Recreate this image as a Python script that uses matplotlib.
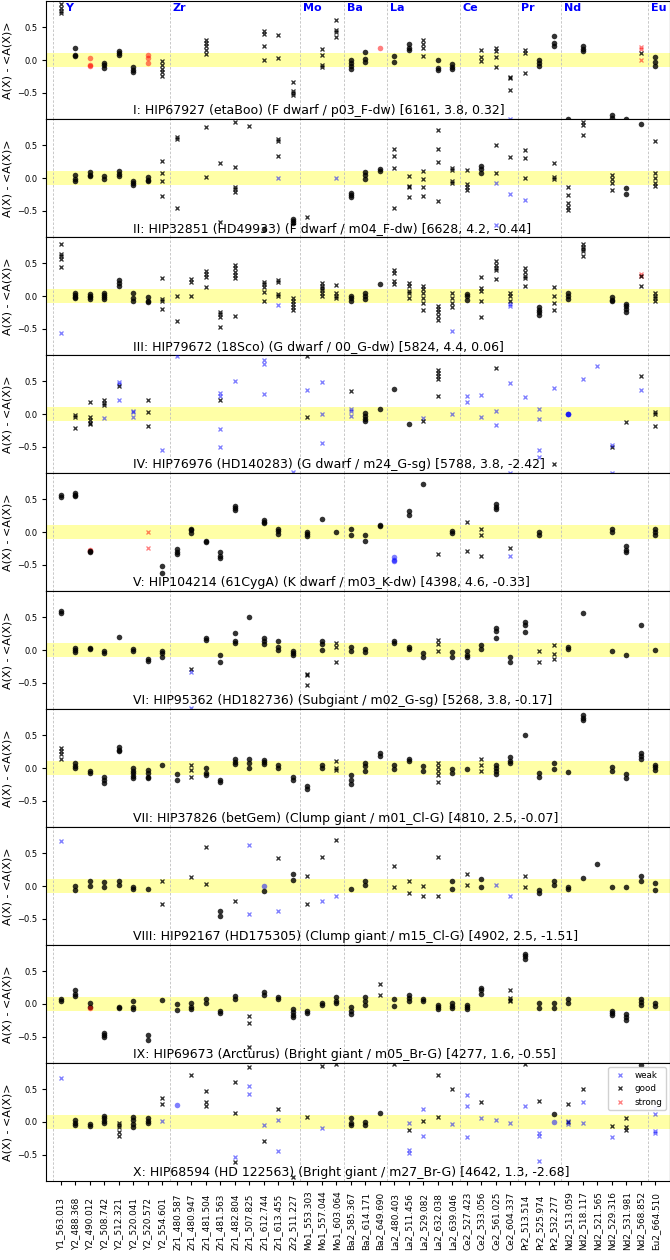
import matplotlib
matplotlib.use("Agg")
import matplotlib.pyplot as plt
from matplotlib.lines import Line2D

# ---------------- data ----------------
LINES = ["Y1_563.013", "Y2_488.368", "Y2_490.012", "Y2_508.742", "Y2_512.321", "Y2_520.041",
         "Y2_520.572", "Y2_554.601", "Zr1_480.587", "Zr1_480.947", "Zr1_481.504", "Zr1_481.563",
         "Zr1_482.804", "Zr1_507.825", "Zr1_612.744", "Zr1_613.455", "Zr2_511.227", "Mo1_553.303",
         "Mo1_557.044", "Mo1_603.064", "Ba2_585.367", "Ba2_614.171", "Ba2_649.690", "La2_480.403",
         "La2_511.456", "La2_529.082", "La2_632.038", "La2_639.046", "Ce2_527.423", "Ce2_533.056",
         "Ce2_561.025", "Ce2_604.337", "Pr2_513.514", "Pr2_525.974", "Pr2_532.277", "Nd2_513.059",
         "Nd2_518.117", "Nd2_521.565", "Nd2_529.316", "Nd2_531.981", "Nd2_568.852", "Eu2_664.510"]

ELEMENTS = ["Y", "Zr", "Mo", "Ba", "La", "Ce", "Pr", "Nd", "Eu"]
ELEMENT_FIRST = [0, 8, 17, 20, 23, 28, 32, 35, 41]

TITLES = [
    "I: HIP67927 (etaBoo) (F dwarf / p03_F-dw) [6161, 3.8, 0.32]",
    "II: HIP32851 (HD49933) (F dwarf / m04_F-dw) [6628, 4.2, -0.44]",
    "III: HIP79672 (18Sco) (G dwarf / 00_G-dw) [5824, 4.4, 0.06]",
    "IV: HIP76976 (HD140283) (G dwarf / m24_G-sg) [5788, 3.8, -2.42]",
    "V: HIP104214 (61CygA) (K dwarf / m03_K-dw) [4398, 4.6, -0.33]",
    "VI: HIP95362 (HD182736) (Subgiant / m02_G-sg) [5268, 3.8, -0.17]",
    "VII: HIP37826 (betGem) (Clump giant / m01_Cl-G) [4810, 2.5, -0.07]",
    "VIII: HIP92167 (HD175305) (Clump giant / m15_Cl-G) [4902, 2.5, -1.51]",
    "IX: HIP69673 (Arcturus) (Bright giant / m05_Br-G) [4277, 1.6, -0.55]",
    "X: HIP68594 (HD 122563) (Bright giant / m27_Br-G) [4642, 1.3, -2.68]",
]

# entries: (line index, marker, flag, values)   flag: g=good, w=weak, s=strong
P1 = [
    (0, 'x', 'g', [0.85, 0.80, 0.75, 0.71]), (1, 'o', 'g', [0.19, 0.08, 0.06]),
    (2, 'o', 's', [0.03, -0.08, -0.09]), (3, 'o', 'g', [-0.04, -0.08, -0.12]),
    (4, 'o', 'g', [0.13, 0.11, 0.08]), (5, 'o', 'g', [-0.11, -0.15, -0.18]),
    (6, 'o', 's', [0.08, 0.03, -0.05]), (7, 'x', 'g', [-0.02, -0.07, -0.13, -0.19, -0.24]),
    (10, 'x', 'g', [0.30, 0.26, 0.21, 0.16, 0.09]), (14, 'x', 'g', [0.44, 0.40, 0.21, 0.0]),
    (15, 'x', 'g', [0.38, 0.03]), (16, 'x', 'g', [-0.33, -0.47, -0.51, -0.54]),
    (18, 'x', 'g', [0.17, 0.08, -0.08, -0.10]), (19, 'x', 'g', [0.61, 0.46, 0.42, 0.35]),
    (20, 'o', 'g', [0.0, -0.05, -0.09, -0.13]), (21, 'o', 'g', [0.12, 0.01, -0.03]),
    (22, 'o', 's', [0.18]), (23, 'o', 'g', [0.06, -0.03]), (24, 'o', 'g', [0.24, 0.19, 0.16]),
    (25, 'x', 'g', [0.30, 0.25, 0.19, 0.06]), (26, 'o', 'g', [0.0, -0.12, -0.15]),
    (27, 'o', 'g', [-0.06, -0.10, -0.13]), (29, 'x', 'g', [0.16, 0.05, -0.01]),
    (30, 'x', 'g', [0.18, 0.13, 0.05, -0.11]), (31, 'x', 'g', [-0.26, -0.28, -0.45]),
    (31, 'x', 'w', [-0.90]), (32, 'x', 'g', [0.16, 0.11, -0.20]),
    (33, 'o', 'g', [0.0, -0.04, -0.09]), (34, 'o', 'g', [0.36, 0.26, 0.21]),
    (35, 'o', 'g', [-0.90]), (36, 'o', 'g', [0.21, 0.17, 0.14]), (38, 'o', 'g', [-0.84, -0.88]),
    (39, 'o', 'g', [-0.90]), (40, 'x', 's', [0.20, 0.17, 0.0]), (40, 'x', 'g', [0.11]),
    (41, 'o', 'g', [0.05, -0.03, -0.09]),
]
P2 = [
    (1, 'o', 'g', [0.04, -0.02, -0.05]), (2, 'o', 'g', [0.09, 0.05, 0.03]),
    (3, 'o', 'g', [0.03, -0.01]), (4, 'o', 'g', [0.10, 0.06, 0.03]),
    (5, 'o', 'g', [-0.04, -0.08, -0.11]), (6, 'o', 'g', [0.01, -0.03, -0.05]),
    (7, 'x', 'g', [0.26, 0.07, -0.04, -0.27]), (8, 'x', 'g', [0.62, 0.59, -0.45]),
    (10, 'x', 'g', [0.78, 0.02]), (11, 'x', 'g', [0.23, -0.67]),
    (12, 'x', 'g', [0.85, 0.17, -0.13, -0.17, -0.22]), (13, 'x', 'g', [0.80]),
    (14, 'o', 'g', [-0.78]), (15, 'x', 'g', [0.60, 0.57, 0.34]), (15, 'x', 'w', [0.0]),
    (16, 'o', 'g', [-0.62, -0.65, -0.68]), (17, 'x', 'g', [-0.59]), (19, 'x', 'w', [0.0]),
    (20, 'o', 'g', [-0.23, -0.26, -0.29]), (21, 'o', 'g', [0.09, 0.04, -0.02]),
    (22, 'o', 'g', [0.13, 0.10]), (23, 'x', 'g', [0.44, 0.33, 0.15, -0.45]),
    (24, 'x', 'g', [0.03, -0.12, -0.14, -0.29]), (25, 'x', 'g', [0.10, -0.02, -0.13, -0.27]),
    (26, 'x', 'g', [0.73, 0.45, 0.25, -0.35]), (27, 'x', 'g', [0.15, 0.12, -0.04, -0.07]),
    (28, 'x', 'g', [0.12, -0.09, -0.14, -0.19]), (29, 'o', 'g', [0.19, 0.13, 0.08]),
    (30, 'x', 'g', [0.50, 0.07]), (30, 'x', 'w', [-0.07, -0.72]), (31, 'x', 'g', [0.32]),
    (31, 'x', 'w', [-0.24]), (32, 'x', 'g', [0.43, 0.31, 0.0]), (32, 'x', 'w', [-0.34]),
    (34, 'x', 'g', [0.23, 0.02, -0.01]), (35, 'x', 'g', [-0.14, -0.26, -0.38, -0.44, -0.49]),
    (36, 'x', 'g', [0.86, 0.81, 0.65]), (38, 'x', 'g', [0.04, -0.01, -0.07, -0.19]),
    (39, 'o', 'g', [-0.15, -0.24]), (40, 'o', 'g', [0.82]),
    (41, 'x', 'g', [0.56, 0.07, 0.0, -0.07, -0.12]),
]
P3 = [
    (0, 'x', 'g', [0.80, 0.64, 0.61, 0.57, 0.45]), (0, 'x', 'w', [-0.57]),
    (1, 'o', 'g', [0.05, 0.02, -0.02, -0.03]), (2, 'o', 'g', [0.03, 0.0, -0.02, -0.04]),
    (3, 'o', 'g', [0.05, 0.02, -0.01, -0.04]), (4, 'o', 'g', [0.24, 0.20, 0.16]),
    (5, 'o', 'g', [0.05, -0.03, -0.08]), (6, 'o', 'g', [-0.02, -0.07, -0.09]),
    (7, 'x', 'g', [0.27, -0.05, -0.08, -0.20]), (8, 'x', 'g', [0.0, -0.38]),
    (9, 'x', 'g', [0.26, 0.21, 0.0]), (10, 'x', 'g', [0.38, 0.33, 0.29, 0.14]),
    (11, 'x', 'g', [-0.24, -0.27, -0.32, -0.48]),
    (12, 'x', 'g', [0.47, 0.42, 0.36, 0.32, 0.27, -0.30]),
    (14, 'x', 'g', [0.21, 0.19, 0.14, 0.06, -0.07]), (15, 'x', 'g', [0.24, 0.21, 0.03, 0.0]),
    (15, 'x', 'w', [-0.13]), (16, 'x', 'g', [-0.03, -0.07, -0.12, -0.17, -0.22]),
    (18, 'x', 'g', [0.20, 0.16, 0.12, 0.09, 0.04, 0.0]), (19, 'x', 'g', [0.17, 0.04, 0.0, -0.03]),
    (20, 'o', 'g', [0.0, -0.03, -0.07]), (21, 'o', 'g', [0.05, 0.0, -0.04]),
    (22, 'o', 'g', [0.19]), (23, 'x', 'g', [0.40, 0.35, 0.23, 0.19]),
    (24, 'x', 'g', [0.20, 0.15, 0.08, 0.04, -0.03]),
    (25, 'x', 'g', [0.16, 0.10, 0.04, -0.03, -0.10, -0.21]),
    (26, 'x', 'g', [-0.15, -0.20, -0.25, -0.30, -0.36]),
    (27, 'x', 'g', [0.04, -0.03, -0.11, -0.17]), (27, 'x', 'w', [-0.54]),
    (28, 'o', 'g', [0.03, 0.0, -0.06]), (29, 'x', 'g', [0.29, 0.12, 0.07, -0.08, -0.32]),
    (30, 'x', 'g', [0.53, 0.48, 0.43, 0.39, 0.26]), (31, 'x', 'g', [0.05, 0.0, -0.07]),
    (31, 'x', 'w', [-0.12, -0.16]), (32, 'x', 'g', [0.42, 0.36, 0.30, 0.28, 0.16]),
    (33, 'o', 'g', [-0.17, -0.21, -0.25, -0.29]), (34, 'x', 'g', [0.14, 0.0, -0.11, -0.22]),
    (35, 'o', 'g', [0.04, 0.0, -0.04]), (36, 'x', 'g', [0.80, 0.75, 0.72, 0.69, 0.61]),
    (38, 'o', 'g', [-0.02, -0.06, -0.08]), (39, 'o', 'g', [-0.12, -0.16, -0.20, -0.24]),
    (40, 'x', 's', [0.33, 0.30]), (40, 'x', 'g', [0.31, 0.16]),
    (41, 'x', 'g', [0.05, 0.0, -0.03, -0.07]),
]
P4 = [
    (1, 'x', 'g', [-0.02, -0.04, -0.22]), (2, 'x', 'g', [0.18, -0.04, -0.09, -0.13, -0.15]),
    (3, 'x', 'g', [0.22, 0.17, 0.13]), (3, 'x', 'w', [-0.06]), (4, 'x', 'w', [0.49, 0.46, 0.21]),
    (4, 'x', 'g', [0.43]), (5, 'x', 'w', [0.05, 0.03, -0.05]), (6, 'x', 'g', [0.22, 0.03, -0.18]),
    (7, 'x', 'w', [-0.55]), (8, 'x', 'w', [0.89]), (11, 'x', 'w', [0.32, 0.28, -0.23, -0.51]),
    (11, 'x', 'g', [0.22]), (12, 'x', 'w', [0.51]), (14, 'x', 'w', [0.82, 0.76, 0.31]),
    (16, 'x', 'w', [-0.88]), (17, 'x', 'w', [0.37]), (17, 'x', 'g', [0.89, -0.04]),
    (18, 'x', 'w', [0.49, 0.0, -0.44]), (20, 'x', 'g', [0.35]), (20, 'x', 'w', [0.08, 0.04, -0.03]),
    (21, 'o', 'g', [0.02, -0.03, -0.07, -0.10]), (22, 'o', 'g', [0.07]), (23, 'o', 'g', [0.38]),
    (24, 'o', 'g', [-0.15]), (25, 'x', 'w', [-0.06]), (25, 'x', 'g', [-0.11]),
    (26, 'x', 'g', [0.67, 0.62, 0.58, 0.53, 0.27]), (27, 'x', 'w', [0.0]),
    (28, 'x', 'w', [0.27, 0.18]), (29, 'x', 'w', [0.29, -0.05]), (30, 'x', 'g', [0.70]),
    (30, 'x', 'w', [0.05, -0.17]), (31, 'x', 'w', [0.48, -0.90]), (32, 'x', 'w', [0.26]),
    (33, 'x', 'w', [0.08, -0.07, -0.55, -0.65]), (34, 'x', 'w', [0.40]), (34, 'x', 'g', [-0.76]),
    (35, 'o', 'w', [0.0, 0.0, 0.0]), (36, 'x', 'w', [0.53]), (37, 'x', 'w', [0.73]),
    (38, 'x', 'g', [-0.50]), (38, 'x', 'w', [-0.48, -0.90]), (39, 'x', 'g', [-0.12]),
    (40, 'x', 'g', [0.58]), (40, 'x', 'w', [0.36]), (41, 'x', 'g', [0.03, 0.0, -0.19]),
]
P5 = [
    (0, 'o', 'g', [0.56, 0.54]), (1, 'o', 'g', [0.60, 0.56, 0.55]), (2, 'o', 's', [-0.27, -0.29]),
    (2, 'o', 'g', [-0.29, -0.31]), (6, 'x', 's', [0.0, -0.25]), (7, 'o', 'g', [-0.52, -0.63]),
    (8, 'o', 'g', [-0.26, -0.30, -0.33]), (9, 'o', 'g', [0.05, 0.03, -0.01]),
    (10, 'o', 'g', [-0.13, -0.16]), (11, 'o', 'g', [-0.31, -0.37, -0.40]),
    (12, 'o', 'g', [0.39, 0.37, 0.34]), (14, 'o', 'g', [0.19, 0.16, 0.14]),
    (15, 'o', 'g', [0.05, 0.02, -0.03]), (17, 'o', 'g', [0.0, -0.03, -0.06]),
    (18, 'o', 'g', [0.20]), (19, 'o', 'g', [0.0]), (20, 'o', 'g', [0.05, -0.04]),
    (21, 'o', 'g', [-0.04, -0.13]), (22, 'o', 'g', [0.11, 0.09]),
    (23, 'o', 'w', [-0.38, -0.42, -0.44]), (24, 'o', 'g', [0.32, 0.26]), (25, 'o', 'g', [0.73]),
    (26, 'x', 'g', [-0.34]), (27, 'o', 'g', [0.02, -0.02]), (28, 'x', 'g', [0.15, -0.29]),
    (29, 'x', 'g', [0.05, -0.05, -0.37]), (30, 'o', 'g', [0.42, 0.38, 0.35]),
    (31, 'x', 'g', [-0.25]), (31, 'x', 'w', [-0.36]), (33, 'o', 'g', [0.0, -0.04]),
    (38, 'o', 'g', [0.04, 0.0]), (39, 'o', 'g', [-0.22, -0.27, -0.31]),
    (41, 'o', 'g', [0.04, 0.0, -0.04]),
]
P6 = [
    (0, 'o', 'g', [0.60, 0.57]), (1, 'o', 'g', [0.03, 0.0, -0.03]), (2, 'o', 'g', [0.03, 0.01]),
    (3, 'o', 'g', [-0.02, -0.05]), (4, 'o', 'g', [0.20]), (5, 'o', 'g', [0.02, -0.02]),
    (6, 'o', 'g', [-0.14, -0.17]), (7, 'o', 'g', [-0.01, -0.05, -0.10]), (9, 'x', 'g', [-0.29]),
    (9, 'x', 'w', [-0.34, -0.89]), (10, 'o', 'g', [0.19, 0.15]), (11, 'o', 'g', [-0.08, -0.18]),
    (12, 'o', 'g', [0.26, 0.14, 0.11]), (13, 'o', 'g', [0.51]), (14, 'o', 'g', [0.19, 0.14, 0.09]),
    (15, 'o', 'g', [0.14, 0.05, 0.0]), (16, 'o', 'g', [-0.01, -0.04, -0.08]),
    (17, 'x', 'g', [-0.36, -0.38, -0.54]), (18, 'o', 'g', [0.13, 0.09, 0.0]),
    (19, 'x', 'g', [0.10, 0.05, -0.18]), (20, 'o', 'g', [0.04, -0.02]), (21, 'o', 'g', [0.02, -0.03]),
    (23, 'o', 'g', [0.14, 0.10]), (24, 'o', 'g', [0.05, 0.01]), (25, 'o', 'g', [-0.04, -0.10]),
    (26, 'x', 'g', [0.16, 0.09, -0.02]), (27, 'o', 'g', [-0.03, -0.10]),
    (28, 'o', 'g', [-0.01, -0.07, -0.10]), (29, 'o', 'g', [0.08, 0.02]),
    (30, 'o', 'g', [0.33, 0.29, 0.19]), (31, 'o', 'g', [-0.10, -0.18]),
    (32, 'o', 'g', [0.42, 0.38, 0.28]), (33, 'x', 'g', [-0.01, -0.19]),
    (34, 'x', 'g', [0.08, -0.06, -0.13]), (35, 'o', 'g', [0.05, 0.01]), (36, 'o', 'g', [0.57]),
    (38, 'o', 'g', [-0.02]), (39, 'o', 'g', [-0.08]), (40, 'o', 'g', [0.38]), (41, 'o', 'g', [0.0]),
]
P7 = [
    (0, 'x', 'g', [0.31, 0.26, 0.21, 0.14]), (1, 'o', 'g', [0.08, 0.03, 0.0]),
    (2, 'o', 'g', [-0.04, -0.08]), (3, 'o', 'g', [-0.13, -0.19, -0.23]),
    (4, 'o', 'g', [0.32, 0.28, 0.26]), (5, 'o', 'g', [0.0, -0.04, -0.08, -0.12, -0.15]),
    (6, 'o', 'g', [-0.03, -0.08, -0.13, -0.16]), (7, 'o', 'g', [0.04]), (8, 'o', 'g', [-0.09, -0.18]),
    (9, 'x', 'g', [0.04, -0.03, -0.13]), (10, 'o', 'g', [0.0, -0.07, -0.10]),
    (11, 'o', 'g', [-0.18, -0.22]), (12, 'o', 'g', [0.13, 0.09, 0.06]),
    (13, 'o', 'g', [0.13, 0.08, 0.0]), (14, 'o', 'g', [0.12, 0.09, 0.06]), (15, 'o', 'g', [0.04, 0.0]),
    (16, 'o', 'g', [-0.13, -0.18]), (17, 'o', 'g', [-0.28, -0.32]), (18, 'o', 'g', [0.04, 0.0]),
    (19, 'x', 'g', [0.10, 0.0, -0.03]), (20, 'o', 'g', [-0.11, -0.18, -0.25]),
    (21, 'o', 'g', [0.08, 0.03, -0.04]), (22, 'o', 'g', [0.23, 0.19]), (23, 'o', 'g', [0.05, -0.01]),
    (24, 'o', 'g', [0.14, 0.10]), (25, 'o', 'g', [0.03, -0.04]),
    (26, 'x', 'g', [0.08, 0.02, -0.05, -0.10, -0.21]), (27, 'o', 'g', [-0.01, -0.08]),
    (28, 'o', 'g', [-0.02]), (29, 'x', 'g', [0.14, 0.05, -0.04]),
    (30, 'o', 'g', [0.05, 0.0, -0.05, -0.09]), (31, 'o', 'g', [0.17, 0.11, 0.08]),
    (32, 'o', 'g', [0.50]), (33, 'o', 'g', [-0.07, -0.13]), (34, 'o', 'g', [0.08, -0.02]),
    (35, 'o', 'g', [-0.06]), (36, 'o', 'g', [0.81, 0.77, 0.73]), (38, 'o', 'g', [0.02, -0.04]),
    (39, 'o', 'g', [-0.09, -0.15]), (40, 'o', 'g', [0.23, 0.19, 0.13]),
    (41, 'o', 'g', [0.05, 0.02, -0.03]),
]
P8 = [
    (0, 'x', 'w', [0.68]), (1, 'o', 'g', [0.0, -0.06]), (2, 'o', 'g', [0.07, 0.0]),
    (3, 'o', 'g', [0.06, -0.01]), (4, 'o', 'g', [0.08, 0.02]), (5, 'o', 'g', [-0.01, -0.04]),
    (6, 'o', 'g', [-0.04]), (7, 'x', 'g', [0.08, -0.27]), (9, 'x', 'g', [0.14]),
    (10, 'x', 'g', [0.59, 0.03]), (11, 'o', 'g', [-0.38, -0.46]), (12, 'x', 'g', [-0.23]),
    (13, 'x', 'w', [0.63, -0.42]), (14, 'o', 'w', [0.0]), (14, 'o', 'g', [-0.07]),
    (15, 'x', 'g', [0.43]), (15, 'x', 'w', [-0.38]), (16, 'o', 'g', [0.18, 0.09]),
    (17, 'x', 'g', [0.15, -0.27]), (18, 'x', 'g', [0.45]), (18, 'x', 'w', [-0.23]),
    (19, 'x', 'g', [0.70]), (19, 'x', 'w', [-0.15]), (20, 'o', 'g', [-0.04]),
    (21, 'o', 'g', [0.08, 0.02]), (23, 'x', 'g', [0.31, -0.01]), (24, 'x', 'g', [0.07, -0.10]),
    (25, 'x', 'g', [0.0, -0.15]), (26, 'x', 'g', [0.44, -0.15]), (27, 'o', 'g', [0.07, -0.05]),
    (28, 'x', 'g', [0.19, 0.02]), (29, 'o', 'g', [0.11, -0.02]), (30, 'x', 'w', [0.02]),
    (31, 'x', 'w', [-0.16]), (32, 'x', 'g', [0.16, -0.02]), (33, 'o', 'g', [-0.06, -0.11]),
    (34, 'o', 'g', [0.08, 0.02]), (35, 'o', 'g', [-0.01, -0.05]), (36, 'o', 'g', [0.12]),
    (37, 'o', 'g', [0.33]), (38, 'o', 'g', [-0.01]), (39, 'o', 'g', [-0.01]),
    (40, 'o', 'g', [0.16, 0.08]), (41, 'o', 'g', [0.05, -0.06]),
]
P9 = [
    (0, 'o', 'g', [0.08, 0.04]), (1, 'o', 'g', [0.21, 0.16, 0.12]), (2, 'o', 'g', [0.02, -0.04]),
    (2, 'o', 's', [-0.06]), (3, 'o', 'g', [-0.45, -0.47, -0.50]), (4, 'o', 'g', [-0.04, -0.06]),
    (5, 'o', 'g', [0.05, -0.04, -0.08]), (6, 'o', 'g', [-0.48, -0.55]), (7, 'o', 'g', [0.06]),
    (8, 'o', 'g', [0.0, -0.09]), (9, 'o', 'g', [0.02, -0.04, -0.07]), (10, 'o', 'g', [0.07, 0.02]),
    (11, 'o', 'g', [-0.10, -0.13]), (12, 'o', 'g', [0.12, 0.08]), (13, 'x', 'g', [-0.18, -0.29, -0.65]),
    (14, 'o', 'g', [0.18, 0.14]), (15, 'o', 'g', [0.10, 0.07]),
    (16, 'o', 'g', [-0.07, -0.12, -0.17, -0.20]), (17, 'o', 'g', [-0.10, -0.14]),
    (18, 'o', 'g', [0.02, -0.02]), (19, 'o', 'g', [0.10, 0.05, 0.02]),
    (20, 'o', 'g', [-0.05, -0.10, -0.16]), (21, 'o', 'g', [0.10, 0.04, -0.02]),
    (22, 'x', 'g', [0.31, 0.13]), (23, 'o', 'g', [0.08, -0.03]), (24, 'o', 'g', [0.13, 0.09, 0.05]),
    (25, 'o', 'g', [0.08, 0.04]), (26, 'o', 'g', [-0.01, -0.05, -0.08]),
    (27, 'o', 'g', [0.02, -0.03, -0.06]), (28, 'o', 'g', [-0.01, -0.05, -0.08]),
    (29, 'o', 'g', [0.25, 0.21, 0.15]), (31, 'x', 'g', [0.22, 0.09, 0.06, 0.04]),
    (32, 'o', 'g', [0.77, 0.73, 0.69]), (33, 'o', 'g', [0.01, -0.06]), (34, 'o', 'g', [0.01, -0.06]),
    (35, 'o', 'g', [0.08, 0.01]), (38, 'o', 'g', [-0.10, -0.14, -0.17]),
    (39, 'o', 'g', [-0.16, -0.20, -0.24]), (40, 'o', 'g', [0.07, 0.03, -0.01]),
    (41, 'o', 'g', [0.02, -0.03]),
]
P10 = [
    (0, 'x', 'w', [0.67]), (1, 'o', 'g', [0.03, -0.01, -0.05]), (2, 'o', 'g', [-0.03, -0.06]),
    (3, 'o', 'g', [0.09, 0.06, 0.02, -0.01]), (4, 'x', 'g', [-0.01, -0.05, -0.08, -0.15, -0.21]),
    (5, 'o', 'g', [0.08, 0.03, -0.03, -0.08]), (6, 'o', 'g', [0.06, 0.02, -0.02]),
    (7, 'x', 'g', [0.37, 0.27]), (7, 'x', 'w', [0.01]), (8, 'o', 'w', [0.26]), (9, 'x', 'g', [0.71]),
    (10, 'x', 'g', [0.47, 0.31, 0.25]), (12, 'x', 'g', [0.61, 0.14, -0.61]), (12, 'x', 'w', [-0.53]),
    (13, 'x', 'g', [0.84]), (13, 'x', 'w', [0.55, 0.42]), (14, 'x', 'w', [-0.04]),
    (14, 'x', 'g', [-0.29]), (15, 'x', 'g', [0.20]), (15, 'x', 'w', [0.03, -0.45]),
    (16, 'x', 'g', [-0.84]), (17, 'x', 'g', [0.08]), (18, 'x', 'g', [0.85]), (18, 'x', 'w', [-0.09]),
    (19, 'x', 'g', [0.88]), (20, 'o', 'g', [0.06, -0.02, -0.05]), (21, 'o', 'g', [0.0, -0.04]),
    (22, 'o', 'g', [0.14]), (23, 'x', 'g', [0.88]), (24, 'x', 'w', [-0.02, -0.43, -0.48]),
    (24, 'x', 'g', [-0.12]), (25, 'x', 'w', [0.20, -0.22]), (25, 'x', 'g', [0.01]),
    (26, 'x', 'g', [0.72, 0.08]), (27, 'x', 'g', [0.50]), (27, 'x', 'w', [-0.03]),
    (28, 'x', 'w', [0.41, 0.24, -0.23]), (29, 'x', 'g', [0.30]), (29, 'x', 'w', [0.06]),
    (30, 'x', 'w', [0.03]), (31, 'x', 'w', [-0.01]), (32, 'x', 'g', [0.88]), (32, 'x', 'w', [0.25]),
    (33, 'x', 'g', [0.32]), (33, 'x', 'w', [-0.17, -0.22, -0.60]), (34, 'o', 'g', [0.12]),
    (34, 'o', 'w', [0.0]), (35, 'x', 'g', [0.28, 0.0]), (35, 'x', 'w', [0.01, -0.03]),
    (36, 'x', 'g', [0.50]), (36, 'x', 'w', [0.30, -0.02]), (38, 'x', 'g', [-0.06]),
    (38, 'x', 'w', [-0.23]), (39, 'x', 'g', [0.06, -0.08, -0.12]), (40, 'o', 'g', [0.87]),
    (41, 'x', 'w', [0.22, 0.12, -0.14, -0.17]),
]
PANELS = [P1, P2, P3, P4, P5, P6, P7, P8, P9, P10]

# ---------------- style ----------------
COLORS = {'g': 'black', 'w': 'blue', 's': 'red'}
ALPHAS = {'g': 0.8, 'w': 0.5, 's': 0.5}
LEG_LABELS = {'w': 'weak', 'g': 'good', 's': 'strong'}

fig, axes = plt.subplots(10, 1, figsize=(6.7, 12.6), dpi=100, sharex=True)
fig.subplots_adjust(left=0.069, right=1.0, top=0.9992, bottom=0.0627, hspace=0)

for k, (ax, data) in enumerate(zip(axes, PANELS)):
    ax.set_xlim(-1, len(LINES))
    ax.set_ylim(-0.9, 0.9)
    ax.axhspan(-0.1, 0.1, color='yellow', alpha=0.35, lw=0, zorder=0)
    for first in ELEMENT_FIRST:
        ax.axvline(first - 0.5, color='0.75', ls=(0, (3, 2)), lw=0.6, zorder=0.5)
    for idx, mk, fl, vals in data:
        if mk == 'o':
            ax.plot([idx] * len(vals), vals, ls='none', marker='o', ms=4.0,
                    mec='none', color=COLORS[fl], alpha=ALPHAS[fl], zorder=3)
        else:
            ax.plot([idx] * len(vals), vals, ls='none', marker='x', ms=3.4, mew=0.95,
                    color=COLORS[fl], alpha=ALPHAS[fl], zorder=3)
    ax.set_yticks([-0.5, 0.0, 0.5])
    ax.tick_params(axis='y', labelsize=6, length=3)
    ax.set_ylabel('A(X) - <A(X)>', fontsize=8, labelpad=3)
    ax.text(5, -0.83, TITLES[k], fontsize=9, va='baseline', ha='left', zorder=4)

# element labels on the top panel
for name, first in zip(ELEMENTS, ELEMENT_FIRST):
    xoff = 0.3 if first == 0 else -0.3
    axes[0].text(first + xoff, 0.87, name, color='blue', fontweight='bold',
                 fontsize=8, va='top', ha='left', zorder=5)

axes[-1].set_xticks(range(len(LINES)))
axes[-1].set_xticklabels(LINES, rotation=90, va='bottom')
axes[-1].tick_params(axis='x', labelsize=6.4, length=3, pad=46.5)

handles = [Line2D([], [], ls='none', marker='x', ms=3.4, mew=0.95, color=COLORS[f],
                  alpha=ALPHAS[f], label=LEG_LABELS[f]) for f in ['w', 'g', 's']]
leg = axes[-1].legend(handles=handles, loc='upper right', fontsize=6.3, handletextpad=0.6,
                      borderpad=0.4, labelspacing=0.5, framealpha=0.9)
leg.set_zorder(10)

fig.savefig('out.png', dpi=100)
